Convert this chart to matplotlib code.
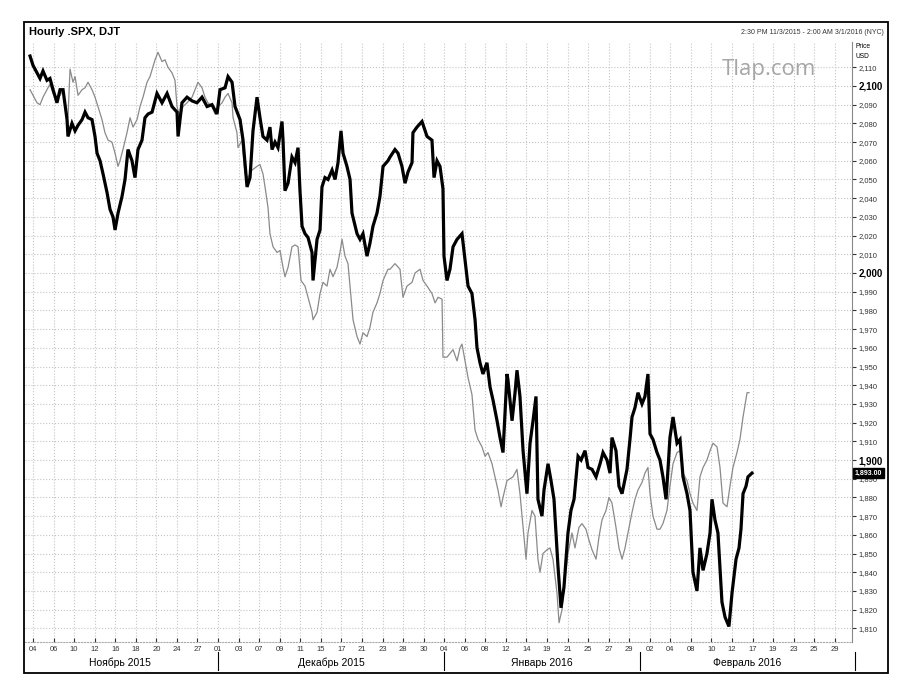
import matplotlib
matplotlib.use('Agg')
import matplotlib.pyplot as plt
import matplotlib.patches as patches
import matplotlib.transforms as mtransforms

plt.rcParams['font.family'] = ['Liberation Sans', 'DejaVu Sans']

# time axis: trading-day index, 0 = session of Nov 4 2015 (weekends/holidays skipped)
spx_t = [-0.29, 0.00, 0.39, 0.68, 0.97, 1.36, 1.65, 1.95, 2.33, 2.63, 2.92, 3.31, 3.40, 3.79,
         4.09, 4.38, 4.77, 5.06, 5.35, 5.74, 6.03, 6.23, 6.52, 6.81, 7.20, 7.49, 7.78, 7.98,
         8.27, 8.66, 8.95, 9.24, 9.63, 9.92, 10.21, 10.60, 10.89, 11.19, 11.58, 12.06, 12.55,
         13.04, 13.52, 14.01, 14.11, 14.49, 14.98, 15.47, 15.95, 16.44, 16.93, 17.41, 17.90,
         18.19, 18.68, 18.97, 19.36, 19.65, 20.14, 20.43, 20.82, 21.11, 21.40, 21.79, 22.08,
         22.37, 22.76, 23.05, 23.25, 23.54, 23.83, 24.22, 24.32, 24.51, 24.81, 25.19, 25.49,
         25.78, 25.97, 26.17, 26.46, 26.75, 27.14, 27.24, 27.63, 27.92, 28.11, 28.40, 28.70,
         29.09, 29.38, 29.67, 29.96, 30.16, 30.54, 30.84, 31.03, 31.52, 31.81, 32.10, 32.49,
         32.78, 33.07, 33.46, 33.75, 34.05, 34.53, 34.73, 35.21, 35.51, 35.89, 36.19, 36.48,
         36.87, 36.96, 37.35, 37.84, 38.33, 38.81, 39.01, 39.30, 39.59, 39.88, 39.98, 40.27,
         40.56, 40.86, 41.25, 41.73, 42.02, 42.32, 42.70, 43.00, 43.19, 43.48, 43.77, 44.16,
         44.46, 44.75, 45.14, 45.43, 45.72, 46.11, 46.20, 46.60, 46.89, 47.08, 47.37, 47.67,
         48.05, 48.35, 48.64, 48.93, 49.12, 49.51, 49.71, 50.10, 50.39, 50.68, 51.07, 51.36,
         51.65, 52.04, 52.33, 52.63, 53.02, 53.31, 53.70, 53.99, 54.38, 54.77, 55.16, 55.45,
         55.84, 56.13, 56.32, 56.71, 57.00, 57.30, 57.78, 58.07, 58.27, 58.56, 58.85, 59.24,
         59.53, 59.82, 60.02, 60.31, 60.70, 60.99, 61.28, 61.58, 61.77, 61.96, 62.26, 62.65,
         62.94, 63.23, 63.62, 63.91, 64.20, 64.59, 64.88, 65.18, 65.56, 65.86, 66.05, 66.34,
         66.63, 67.02, 67.32, 67.70, 68.00, 68.39, 68.68, 68.87, 69.07, 69.36, 69.55, 69.94]
spx = [2116, 2111, 2107, 2104, 2108, 2103, 2104, 2098, 2091, 2098, 2098, 2082, 2073, 2080,
       2076, 2079, 2082, 2086, 2083, 2082, 2073, 2064, 2060, 2053, 2043, 2034, 2030, 2023,
       2032, 2041, 2050, 2066, 2060, 2051, 2066, 2071, 2083, 2085, 2086, 2096, 2091,
       2096, 2089, 2086, 2073, 2091, 2094, 2092, 2091, 2094, 2089, 2090, 2085,
       2098, 2099, 2105, 2102, 2089, 2082, 2071, 2046, 2051, 2076, 2094, 2083,
       2073, 2071, 2078, 2066, 2070, 2067, 2081, 2071, 2044, 2048, 2062, 2059,
       2067, 2044, 2025, 2021, 2019, 2011, 1996, 2018, 2023, 2046, 2051, 2050,
       2055, 2050, 2059, 2076, 2064, 2057, 2050, 2032, 2021, 2018, 2021, 2009,
       2016, 2025, 2032, 2041, 2057, 2060, 2062, 2066, 2064, 2057, 2048, 2054,
       2059, 2075, 2078, 2081, 2073, 2071, 2051, 2060, 2057, 2045, 2009, 1996,
       2002, 2014, 2018, 2021, 2007, 1993, 1989, 1975, 1960, 1952, 1946, 1952,
       1939, 1932, 1921, 1912, 1904, 1946, 1943, 1921, 1936, 1948, 1934, 1905,
       1882, 1909, 1921, 1934, 1879, 1870, 1884, 1898, 1889, 1879, 1843, 1821,
       1832, 1861, 1873, 1879, 1902, 1900, 1905, 1896, 1895, 1891, 1898, 1904,
       1900, 1893, 1912, 1905, 1886, 1882, 1895, 1911, 1923, 1928, 1936, 1930,
       1934, 1946, 1914, 1911, 1904, 1900, 1891, 1879, 1895, 1912, 1923, 1909,
       1911, 1891, 1882, 1873, 1840, 1830, 1853, 1841, 1850, 1861, 1879, 1868,
       1861, 1824, 1816, 1811, 1829, 1847, 1853, 1863, 1882, 1886, 1891, 1893]

djt_t = [-0.29, 0.00, 0.39, 0.68, 0.97, 1.36, 1.65, 1.95, 2.33, 2.63, 2.92, 3.11, 3.40, 3.60,
         3.89, 4.09, 4.38, 4.77, 5.06, 5.35, 5.74, 6.03, 6.32, 6.71, 7.00, 7.30, 7.68, 7.98,
         8.27, 8.46, 8.75, 9.14, 9.44, 9.73, 10.12, 10.41, 10.70, 11.09, 11.38, 11.87, 12.16,
         12.55, 12.84, 13.13, 13.52, 13.81, 14.01, 14.30, 14.59, 14.98, 15.47, 15.76, 16.05,
         16.44, 16.73, 17.02, 17.41, 17.70, 18.00, 18.39, 18.68, 18.97, 19.36, 19.46, 19.84,
         19.94, 20.33, 20.62, 20.91, 21.30, 21.79, 22.08, 22.37, 22.57, 22.86, 23.05, 23.35,
         23.74, 24.03, 24.32, 24.51, 24.81, 25.19, 25.49, 25.78, 26.07, 26.46, 26.75, 27.14,
         27.24, 27.63, 27.92, 28.21, 28.60, 28.89, 29.18, 29.57, 29.86, 30.06, 30.35, 30.64,
         30.93, 31.13, 31.52, 31.81, 32.10, 32.49, 32.78, 33.07, 33.46, 33.75, 34.05, 34.53,
         34.73, 35.21, 35.70, 35.99, 36.38, 36.87, 37.16, 37.65, 37.94, 38.33, 38.81, 39.11,
         39.40, 39.79, 39.88, 40.27, 40.56, 40.86, 41.25, 41.54, 41.73, 42.02, 42.32, 42.70,
         43.00, 43.29, 43.68, 43.97, 44.26, 44.65, 44.94, 45.23, 45.53, 45.72, 46.11, 46.40,
         46.69, 47.08, 47.37, 47.67, 47.96, 48.15, 48.54, 48.83, 49.12, 49.32, 49.61, 50.00,
         50.29, 50.58, 50.97, 51.17, 51.46, 51.75, 52.04, 52.43, 52.72, 53.11, 53.40, 53.79,
         54.09, 54.38, 54.77, 55.06, 55.35, 55.74, 56.03, 56.32, 56.71, 57.00, 57.30, 57.59,
         57.98, 58.27, 58.56, 58.85, 59.24, 59.53, 59.82, 60.02, 60.31, 60.70, 60.99, 61.28,
         61.67, 61.96, 62.26, 62.65, 62.94, 63.23, 63.62, 63.91, 64.20, 64.59, 64.88, 65.18,
         65.56, 65.86, 66.15, 66.54, 66.83, 67.12, 67.51, 67.80, 68.09, 68.48, 68.77, 69.07,
         69.46, 69.65]
djt = [2098, 2095, 2091, 2090, 2094, 2098, 2101, 2096, 2094, 2095, 2098, 2089, 2083, 2109,
       2102, 2105, 2095, 2098, 2099, 2102, 2098, 2094, 2089, 2082, 2075, 2071, 2070, 2064,
       2057, 2060, 2066, 2075, 2083, 2078, 2082, 2089, 2094, 2102, 2105, 2114, 2118,
       2113, 2114, 2110, 2107, 2103, 2089, 2083, 2089, 2091, 2094, 2098, 2102,
       2099, 2094, 2091, 2089, 2085, 2089, 2091, 2094, 2096, 2091, 2083, 2075,
       2067, 2071, 2053, 2051, 2055, 2057, 2058, 2053, 2046, 2035, 2021, 2014,
       2011, 2012, 2003, 1998, 2003, 2014, 2015, 2014, 1996, 1993, 1987, 1979,
       1975, 1979, 1989, 1995, 1993, 2002, 1998, 2003, 2011, 2018, 2009, 2005,
       1987, 1975, 1966, 1962, 1968, 1966, 1971, 1979, 1984, 1989, 1996, 2002,
       2002, 2005, 2002, 1987, 1993, 1995, 2000, 2002, 1996, 1993, 1989, 1984,
       1987, 1986, 1955, 1955, 1957, 1959, 1953, 1960, 1962, 1953, 1944, 1935,
       1916, 1911, 1907, 1902, 1904, 1898, 1891, 1884, 1875, 1880, 1889, 1890,
       1891, 1895, 1882, 1864, 1847, 1861, 1873, 1870, 1847, 1840, 1850, 1852,
       1853, 1847, 1829, 1813, 1820, 1836, 1850, 1861, 1853, 1864, 1866, 1863,
       1857, 1852, 1847, 1859, 1868, 1873, 1880, 1877, 1864, 1853, 1847, 1853,
       1864, 1872, 1879, 1884, 1888, 1893, 1896, 1882, 1870, 1863, 1863, 1866,
       1873, 1886, 1898, 1904, 1905, 1893, 1889, 1882, 1877, 1873, 1891, 1896,
       1900, 1905, 1909, 1907, 1896, 1877, 1875, 1886, 1896, 1904, 1911, 1923,
       1936, 1936]

# every second session gets a label
day_labels = ['04', '06', '10', '12', '16', '18', '20', '24', '27', '01',
              '03', '07', '09', '11', '15', '17', '21', '23', '28', '30',
              '04', '06', '08', '12', '14', '19', '21', '25', '27', '29',
              '02', '04', '08', '10', '12', '17', '19', '23', '25', '29']
month_names = ['Ноябрь 2015', 'Декабрь 2015', 'Январь 2016', 'Февраль 2016']
month_starts = [-1, 18, 40, 59, 80]  # session index where each month begins
price_ticks = list(range(1810, 2111, 10))

W, H = 907, 700
fig = plt.figure(figsize=(W / 100, H / 100), dpi=100)
ax = fig.add_axes([25 / W, 1 - 642 / H, (852 - 25) / W, (642 - 42) / H])

ax.plot(djt_t, djt, color='#8a8a8a', lw=0.9)
ax.plot(spx_t, spx, color='black', lw=2.3, solid_joinstyle='miter')

ax.set_xlim(-0.78, 79.67)
ax.set_ylim(1802.7, 2123.5)

ax.set_xticks(range(0, 2 * len(day_labels), 2))
ax.set_xticklabels(day_labels)
ax.set_yticks(price_ticks)
ax.set_yticklabels([f'{v:,}' for v in price_ticks])
ax.yaxis.tick_right()
ax.tick_params(axis='y', labelsize=5.5, length=3, width=0.8, pad=1.5, colors='#333333')
ax.tick_params(axis='x', labelsize=5.5, length=3, direction='in', pad=3, colors='#333333')
for lab, v in zip(ax.get_yticklabels(), price_ticks):
    if v % 100 == 0:
        lab.set_fontweight('bold')
        lab.set_fontsize(7)
        lab.set_color('black')

ax.grid(True, color='#c4c4c4', ls=':', lw=0.8)
for s in ['top', 'left']:
    ax.spines[s].set_visible(False)
ax.spines['right'].set_color('#888888')
ax.spines['right'].set_linewidth(0.8)
ax.spines['bottom'].set_color('#aaaaaa')
ax.spines['bottom'].set_linestyle(':')

# month names and separators under the day labels
trans = mtransforms.blended_transform_factory(ax.transData, ax.transAxes)
for i, name in enumerate(month_names):
    mid = (month_starts[i] + month_starts[i + 1]) / 2
    ax.text(mid, -0.035, name, transform=trans, ha='center', va='center', fontsize=7.5)
for m in month_starts[1:]:
    ax.plot([m, m], [-0.017, -0.047], transform=trans, color='black', lw=0.8, clip_on=False)

# last price marker
ax.text(1.003, spx[-1], f'{spx[-1]:,.2f}', transform=ax.get_yaxis_transform(),
        ha='left', va='center', fontsize=5, color='white', fontweight='bold',
        bbox=dict(boxstyle='square,pad=0.25', fc='black', ec='black'))

fig.text(855 / W, 1 - 47 / H, 'Price', fontsize=4.8, va='center')
fig.text(855 / W, 1 - 57 / H, 'USD', fontsize=4.8, va='center')
fig.text(29 / W, 1 - 32 / H, 'Hourly .SPX, DJT', fontsize=8, fontweight='bold', va='center')
fig.text(884 / W, 1 - 33 / H, '2:30 PM 11/3/2015 - 2:00 AM 3/1/2016 (NYC)', fontsize=5,
         ha='right', va='center', color='#333333')
fig.text(769 / W, 1 - 70 / H, 'Tlap.com', fontsize=16, ha='center', va='center',
         color='#a6a6a6', family=['Open Sans', 'DejaVu Sans'])

fig.add_artist(patches.Rectangle((24 / W, 1 - 673 / H), (888 - 24) / W, (673 - 22) / H,
                                 transform=fig.transFigure, fill=False, lw=1.3, ec='black'))

fig.savefig('out.png', dpi=100, facecolor='white')
